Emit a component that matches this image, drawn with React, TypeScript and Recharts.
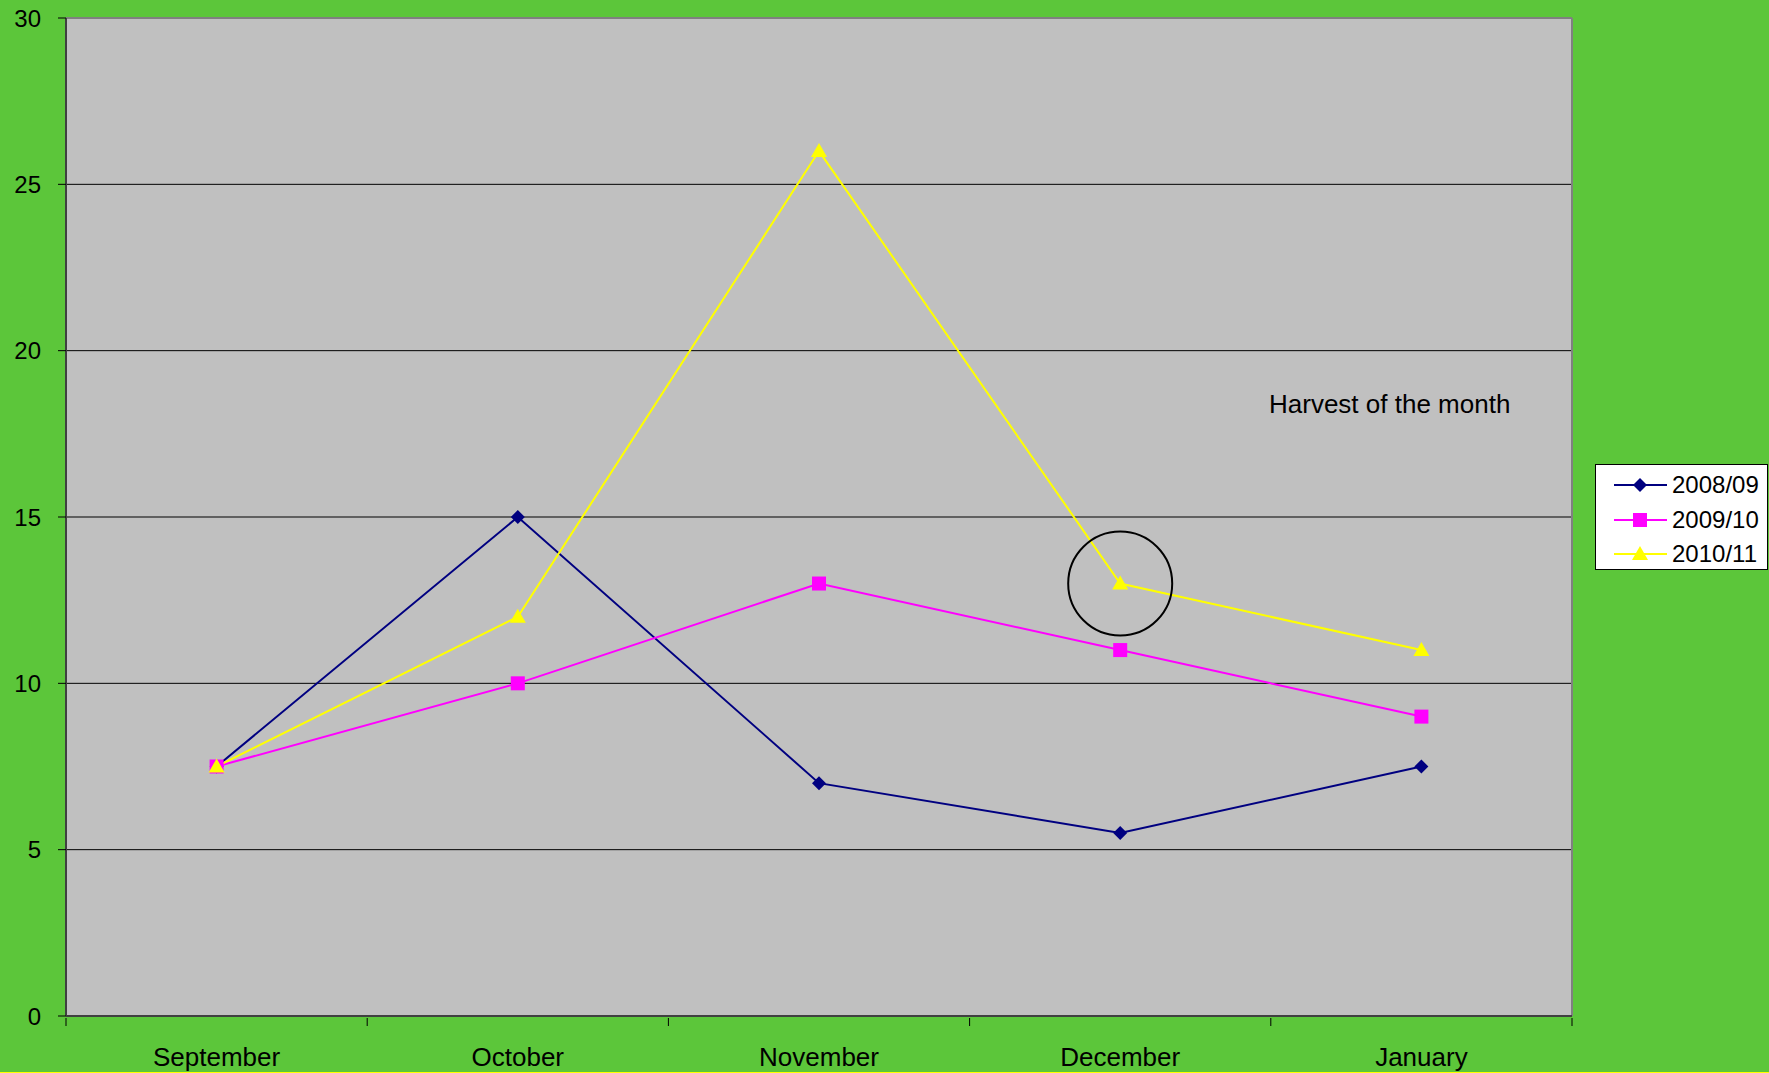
import React from 'react'
import {
  LineChart,
  Line,
  XAxis,
  YAxis,
  CartesianGrid,
  ReferenceLine,
  ReferenceDot
} from 'recharts'

const months = ['September', 'October', 'November', 'December', 'January']
const season0809 = [7.5, 15, 7, 5.5, 7.5]
const season0910 = [7.5, 10, 13, 11, 9]
const season1011 = [7.5, 12, 26, 13, 11]
const yTicks = [0, 5, 10, 15, 20, 25, 30]

const FONT = '"Liberation Sans", Arial, sans-serif'
const NAVY = '#000080'
const MAGENTA = '#FF00FF'
const YELLOW = '#FFFF00'

const data = months.map((m, i) => ({
  x: i + 0.5,
  month: m,
  s0809: season0809[i],
  s0910: season0910[i],
  s1011: season1011[i]
}))

const xTicks = months.flatMap((_, i) => [i, i + 0.5]).concat([months.length])

const Diamond = ({ cx, cy }: any) =>
  cx == null ? null : (
    <path d={`M${cx},${cy - 7} L${cx + 7},${cy} L${cx},${cy + 7} L${cx - 7},${cy} Z`} fill={NAVY} />
  )
const Square = ({ cx, cy }: any) =>
  cx == null ? null : <rect x={cx - 7} y={cy - 7} width={14} height={14} fill={MAGENTA} />
const Triangle = ({ cx, cy }: any) =>
  cx == null ? null : (
    <path d={`M${cx},${cy - 8} L${cx + 8},${cy + 6} L${cx - 8},${cy + 6} Z`} fill={YELLOW} />
  )

const MonthTick = ({ x, y, payload }: any) => {
  const v = payload.value
  if (Number.isInteger(v)) {
    return <line x1={x} y1={y} x2={x} y2={y + 8} stroke="#000" strokeWidth={1} />
  }
  return (
    <text x={x} y={y + 48} textAnchor="middle" fontSize={26} fontFamily={FONT} fill="#000">
      {months[Math.floor(v)]}
    </text>
  )
}

const legendItems = [
  { name: '2008/09', color: NAVY, Mark: Diamond },
  { name: '2009/10', color: MAGENTA, Mark: Square },
  { name: '2010/11', color: YELLOW, Mark: Triangle }
]

const LegendBox = () => (
  <div
    style={{
      position: 'absolute',
      left: 1595,
      top: 464,
      width: 173,
      height: 106,
      boxSizing: 'border-box',
      border: '1px solid #000',
      background: '#fff',
      paddingTop: 3,
      fontFamily: FONT,
      fontSize: 24
    }}
  >
    {legendItems.map(({ name, color, Mark }) => (
      <div key={name} style={{ display: 'flex', alignItems: 'center', height: 34.5 }}>
        <svg width={76} height={30} style={{ flex: 'none' }}>
          <line x1={18} y1={15} x2={71} y2={15} stroke={color} strokeWidth={2} />
          <Mark cx={44} cy={15} />
        </svg>
        <span style={{ color: '#000' }}>{name}</span>
      </div>
    ))}
  </div>
)

export default function App() {
  return (
    <div
      style={{
        position: 'absolute',
        left: 0,
        top: 0,
        width: 1769,
        height: 1073,
        background: '#5CC63A',
        borderBottom: '1px solid #FFFF00',
        boxSizing: 'border-box'
      }}
    >
      <LineChart
        width={1769}
        height={1072}
        data={data}
        margin={{ top: 18, right: 197, bottom: 0, left: 0 }}
      >
        <CartesianGrid
          vertical={false}
          stroke="#000"
          strokeWidth={1}
          fill="#C0C0C0"
          fillOpacity={1}
        />
        <XAxis
          dataKey="x"
          type="number"
          domain={[0, 5]}
          ticks={xTicks}
          interval={0}
          tickSize={0}
          tickLine={false}
          tick={<MonthTick />}
          height={56}
          axisLine={{ stroke: '#404040', strokeWidth: 2 }}
        />
        <YAxis
          type="number"
          domain={[0, 30]}
          ticks={yTicks}
          interval={0}
          width={66}
          tickSize={8}
          tickMargin={17}
          tickLine={{ stroke: '#000' }}
          axisLine={{ stroke: '#404040', strokeWidth: 2 }}
          tick={{ fill: '#000', fontSize: 24, fontFamily: FONT }}
        />
        <ReferenceLine y={30} stroke="#808080" strokeWidth={2} />
        <ReferenceLine x={5} stroke="#808080" strokeWidth={2} />
        <Line
          dataKey="s0809"
          name="2008/09"
          stroke={NAVY}
          strokeWidth={2}
          dot={<Diamond />}
          activeDot={false}
          isAnimationActive={false}
        />
        <Line
          dataKey="s0910"
          name="2009/10"
          stroke={MAGENTA}
          strokeWidth={2}
          dot={<Square />}
          activeDot={false}
          isAnimationActive={false}
        />
        <Line
          dataKey="s1011"
          name="2010/11"
          stroke={YELLOW}
          strokeWidth={2}
          dot={<Triangle />}
          activeDot={false}
          isAnimationActive={false}
        />
        <ReferenceDot x={3.5} y={13} r={52} fill="none" stroke="#000" strokeWidth={2} />
      </LineChart>
      <LegendBox />
      <div
        style={{
          position: 'absolute',
          left: 1269,
          top: 389,
          fontFamily: FONT,
          fontSize: 26,
          color: '#000',
          whiteSpace: 'nowrap'
        }}
      >
        Harvest of the month
      </div>
    </div>
  )
}
